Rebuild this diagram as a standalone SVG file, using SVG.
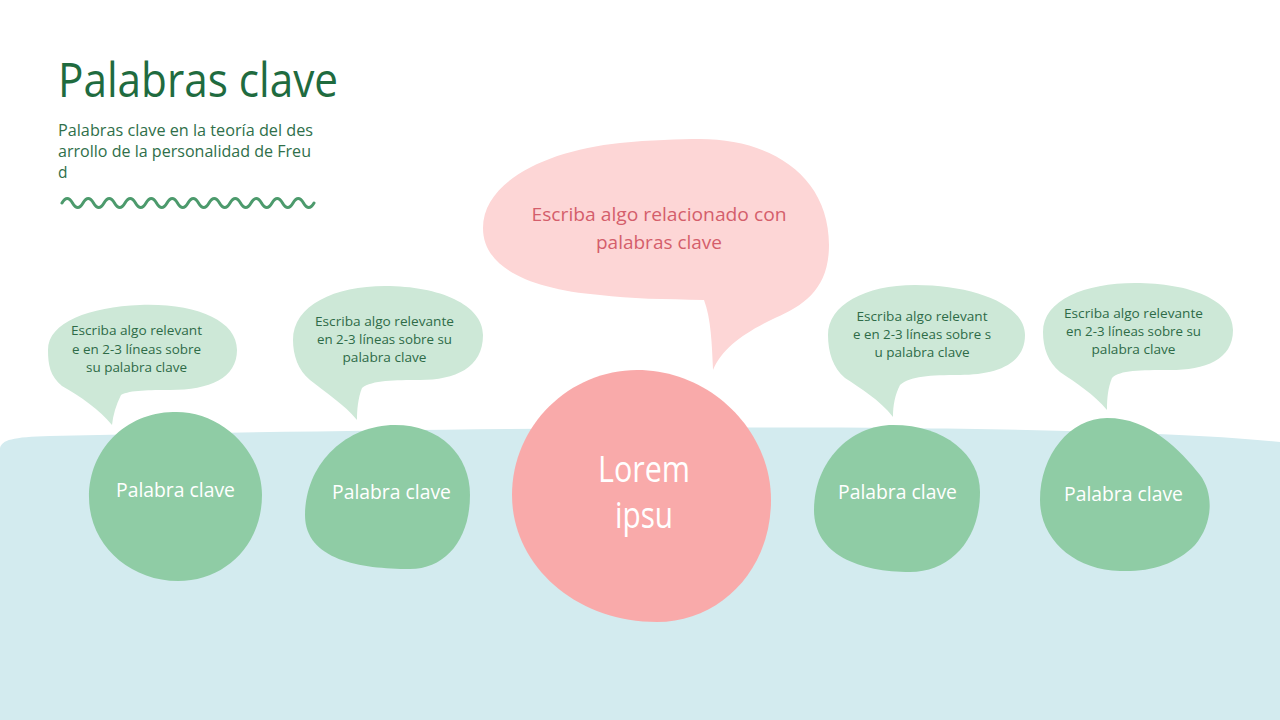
<svg xmlns="http://www.w3.org/2000/svg" width="1280" height="720" viewBox="0 0 1280 720">
<style>
text{font-family:"Open Sans","Noto Sans","Liberation Sans",sans-serif}
.title{font-size:48px;fill:#1f6b3f}
.sub{font-size:15.5px;fill:#2f6f4a}
.gb{fill:#cde8d7}
.gc{fill:#8fcca5}
.bt{font-size:13.5px;fill:#2e6b47;text-anchor:middle}
.kw{font-size:20.5px;fill:#ffffff;text-anchor:middle;font-weight:400}
.pt{font-size:18.5px;fill:#d45e6b;text-anchor:middle}
.lt{font-size:36px;fill:#ffffff;text-anchor:middle;font-weight:400}
</style>
<rect width="1280" height="720" fill="#ffffff"/>
<path id="band" d="M0,448 C2,440 12,437 50,436 C300,431 650,426 900,428 C1080,430 1200,434 1280,442 L1280,720 L0,720 Z" fill="#d3ebef"/>

<g id="header">
<text class="title" x="58" y="97" textLength="280" lengthAdjust="spacingAndGlyphs">Palabras clave</text>
<text class="sub" x="58" y="136" textLength="255" lengthAdjust="spacingAndGlyphs">Palabras clave en la teoría del des</text>
<text class="sub" x="58" y="157" textLength="253" lengthAdjust="spacingAndGlyphs">arrollo de la personalidad de Freu</text>
<text class="sub" x="58" y="178">d</text>
<path d="M62,203 q5.25,-9 10.5,0 t10.5,0 t10.5,0 t10.5,0 t10.5,0 t10.5,0 t10.5,0 t10.5,0 t10.5,0 t10.5,0 t10.5,0 t10.5,0 t10.5,0 t10.5,0 t10.5,0 t10.5,0 t10.5,0 t10.5,0 t10.5,0 t10.5,0 t10.5,0 t10.5,0 t10.5,0 t10.5,0" fill="none" stroke="#4c9a6c" stroke-width="3" stroke-linecap="round"/>
</g>

<g id="connectors"></g>

<g id="bubble-center">
<path d="M700,139 C770,139 829,175 829,245 C829,288 805,305 775,318 C745,332 722,348 713,370 C712,345 711,318 704,300 C665,299 630,299 600,295 C530,289 483,268 483,228 C483,180 550,150 620,143 C650,140 680,139 700,139 Z" fill="#fdd6d6"/>
<text class="pt" x="659" y="221" textLength="255" lengthAdjust="spacingAndGlyphs">Escriba algo relacionado con</text>
<text class="pt" x="659" y="249" textLength="126" lengthAdjust="spacingAndGlyphs">palabras clave</text>
</g>

<g id="node-center">
<path d="M637,370 C710,370 771,430 771,500 C771,570 720,622 657,622 C575,622 512,565 512,495 C512,425 570,370 637,370 Z" fill="#f9aaaa"/>
<text class="lt" x="644" y="482" textLength="92" lengthAdjust="spacingAndGlyphs">Lorem</text>
<text class="lt" x="644" y="528" textLength="58" lengthAdjust="spacingAndGlyphs">ipsu</text>
</g>

<g id="bubble-1">
<path class="gb" d="M140,305 C195,303 237,320 237,350 C237,378 210,390 170,390 C150,390 130,390 121,395 C116,405 113,415 112,425 C100,410 80,396 62,386 C50,376 48,365 48,350 C48,322 90,307 140,305 Z"/>
<text class="bt" x="136.5" y="335" textLength="131" lengthAdjust="spacingAndGlyphs">Escriba algo relevant</text>
<text class="bt" x="136.5" y="354" textLength="129" lengthAdjust="spacingAndGlyphs">e en 2-3 líneas sobre</text>
<text class="bt" x="136.5" y="372" textLength="101" lengthAdjust="spacingAndGlyphs">su palabra clave</text>
</g>
<g id="node-1">
<path class="gc" d="M173,412 C220,410 262,450 262,495 C262,545 225,581 178,581 C130,581 89,545 89,497 C89,450 125,413 173,412 Z"/>
<text class="kw" x="175.5" y="497" textLength="119" lengthAdjust="spacingAndGlyphs">Palabra clave</text>
</g>

<g id="bubble-2">
<path class="gb" d="M385,286 C440,286 483,305 483,335 C483,368 455,380 420,380 C395,380 372,380 362,388 C358,398 357,410 357,420 C345,405 325,392 310,380 C298,370 293,355 293,340 C293,305 335,286 385,286 Z"/>
<text class="bt" x="384.5" y="326" textLength="139" lengthAdjust="spacingAndGlyphs">Escriba algo relevante</text>
<text class="bt" x="384.5" y="344" textLength="135" lengthAdjust="spacingAndGlyphs">en 2-3 líneas sobre su</text>
<text class="bt" x="384.5" y="362" textLength="84" lengthAdjust="spacingAndGlyphs">palabra clave</text>
</g>
<g id="node-2">
<path class="gc" d="M395,425 C440,425 470,455 470,495 C470,540 445,569 410,569 C360,569 305,560 305,515 C305,465 345,425 395,425 Z"/>
<text class="kw" x="391.5" y="499" textLength="119" lengthAdjust="spacingAndGlyphs">Palabra clave</text>
</g>

<g id="bubble-3">
<path class="gb" d="M915,285 C975,285 1025,305 1025,335 C1025,365 995,375 960,375 C930,375 910,376 900,385 C895,395 893,405 893,417 C880,400 860,388 845,378 C833,368 828,352 828,335 C828,305 865,285 915,285 Z"/>
<text class="bt" x="922" y="321" textLength="131" lengthAdjust="spacingAndGlyphs">Escriba algo relevant</text>
<text class="bt" x="922" y="339" textLength="138" lengthAdjust="spacingAndGlyphs">e en 2-3 líneas sobre s</text>
<text class="bt" x="922" y="357" textLength="95" lengthAdjust="spacingAndGlyphs">u palabra clave</text>
</g>
<g id="node-3">
<path class="gc" d="M893,425 C945,425 980,455 980,492 C980,540 950,572 910,572 C860,572 814,555 814,510 C814,462 850,425 893,425 Z"/>
<text class="kw" x="897.5" y="499" textLength="119" lengthAdjust="spacingAndGlyphs">Palabra clave</text>
</g>

<g id="bubble-4">
<path class="gb" d="M1135,283 C1190,283 1233,300 1233,330 C1233,360 1205,370 1170,370 C1140,370 1120,370 1112,378 C1108,388 1107,398 1107,410 C1095,395 1075,382 1060,372 C1048,362 1043,348 1043,332 C1043,300 1085,283 1135,283 Z"/>
<text class="bt" x="1133.5" y="318" textLength="139" lengthAdjust="spacingAndGlyphs">Escriba algo relevante</text>
<text class="bt" x="1133.5" y="336" textLength="135" lengthAdjust="spacingAndGlyphs">en 2-3 líneas sobre su</text>
<text class="bt" x="1133.5" y="354" textLength="84" lengthAdjust="spacingAndGlyphs">palabra clave</text>
</g>
<g id="node-4">
<path class="gc" d="M1107,418 C1150,418 1180,450 1200,475 C1215,495 1212,525 1195,545 C1175,565 1150,572 1120,571 C1075,570 1040,540 1040,500 C1040,455 1070,418 1107,418 Z"/>
<text class="kw" x="1123.5" y="501" textLength="119" lengthAdjust="spacingAndGlyphs">Palabra clave</text>
</g>
</svg>
